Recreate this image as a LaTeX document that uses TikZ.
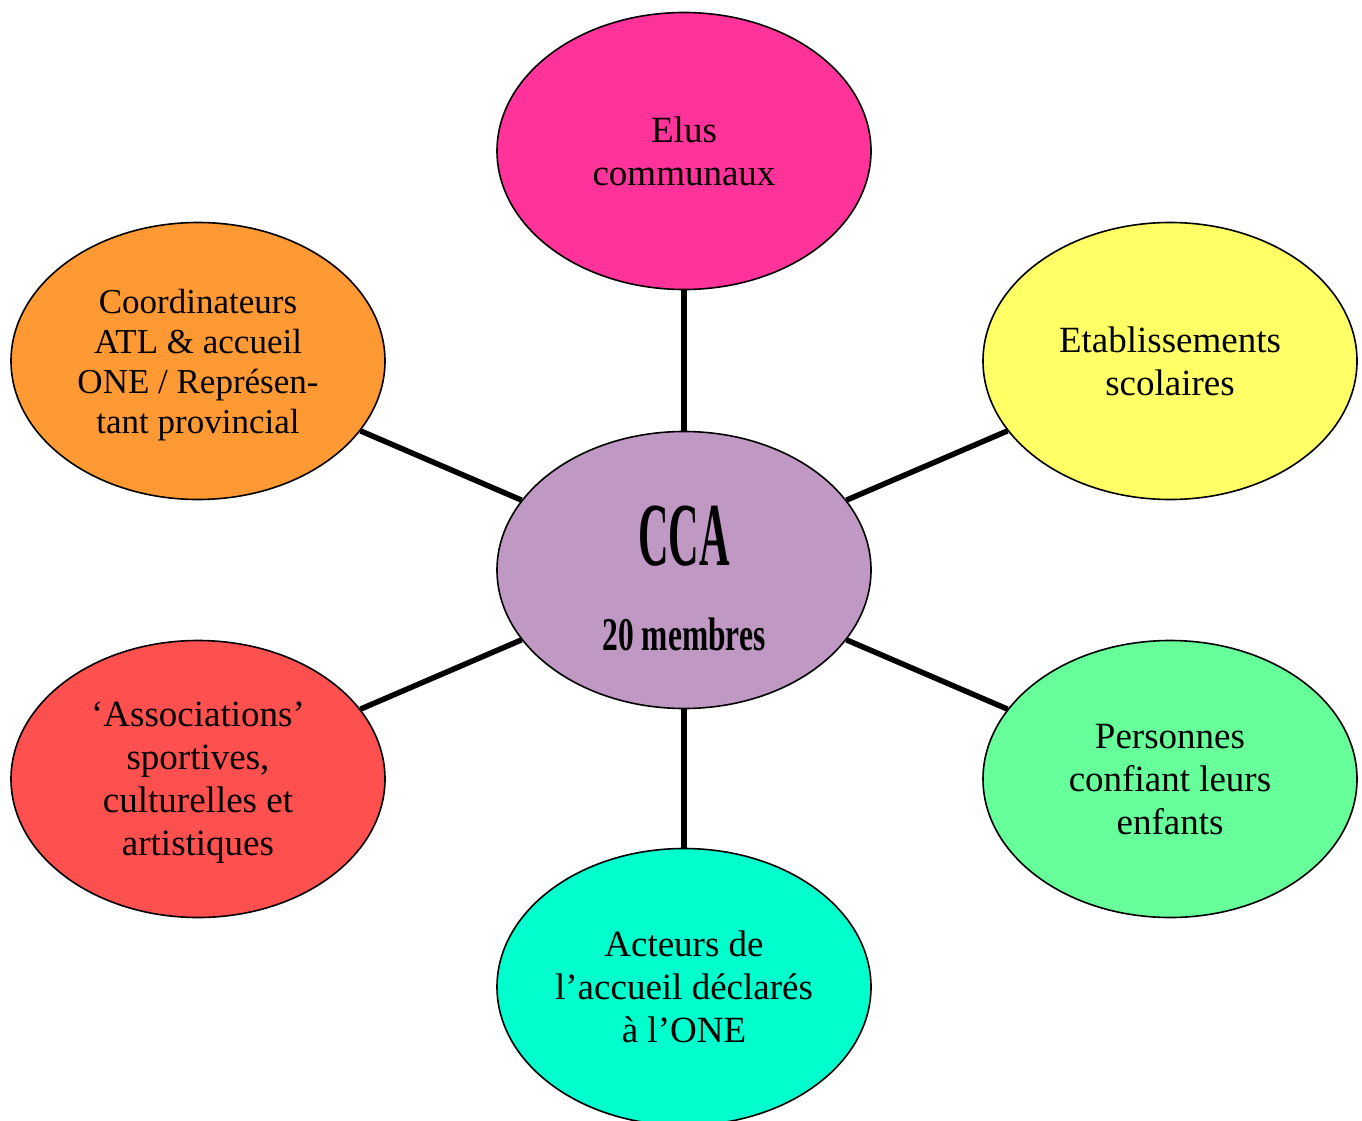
\documentclass[tikz,border=0pt]{standalone}
\usepackage{fontspec}
\setmainfont{Liberation Serif}
\usetikzlibrary{shapes.geometric}
\definecolor{cpink}{HTML}{FF3399}
\definecolor{cyellow}{HTML}{FFFF66}
\definecolor{corange}{HTML}{FF9933}
\definecolor{cred}{HTML}{FF5050}
\definecolor{cgreen}{HTML}{66FF99}
\definecolor{ccyan}{HTML}{00FFCC}
\definecolor{cpurple}{HTML}{BF98C3}
\tikzset{
  bubble/.style={ellipse, draw=black, line width=1.6pt, inner sep=0pt,
    minimum width=374pt, minimum height=277pt, align=center, text depth=0pt,
    font=\fontsize{37}{43}\selectfont},
  link/.style={line width=5.5pt, draw=black}
}
\begin{document}
\begin{tikzpicture}[x=1pt,y=-1pt]
\useasboundingbox (0,0) rectangle (1362,1121);
\clip (0,0) rectangle (1362,1121);
\node[bubble, fill=cpurple] (cca) at (684,570) {};
\node[bubble, fill=cpink] (elus) at (684,151) {Elus\\communaux};
\node[bubble, fill=cyellow] (etab) at (1170,361) {Etablissements\\scolaires};
\node[bubble, fill=corange, font=\fontsize{35}{40}\selectfont] (coord) at (198,361) {Coordinateurs\\ATL \& accueil\\ONE / Représen-\\tant provincial};
\node[bubble, fill=cred] (assoc) at (198,779) {‘Associations’\\sportives,\\culturelles et\\artistiques};
\node[bubble, fill=cgreen] (pers) at (1170,779) {Personnes\\confiant leurs\\enfants};
\node[bubble, fill=ccyan] (acteurs) at (684,987) {Acteurs de\\l’accueil déclarés\\à l’ONE};
\node[anchor=base, inner sep=0pt] (ccatitle) at (684,565) {\scalebox{0.47}[1]{\fontsize{90}{90}\selectfont\bfseries CCA}};
\node[anchor=base, inner sep=0pt] (ccasub) at (684,650) {\scalebox{0.67}[1]{\fontsize{47}{47}\selectfont\bfseries 20 membres}};
\draw[link] (cca) -- (elus);
\draw[link] (cca) -- (etab);
\draw[link] (cca) -- (coord);
\draw[link] (cca) -- (assoc);
\draw[link] (cca) -- (pers);
\draw[link] (cca) -- (acteurs);
\end{tikzpicture}
\end{document}
